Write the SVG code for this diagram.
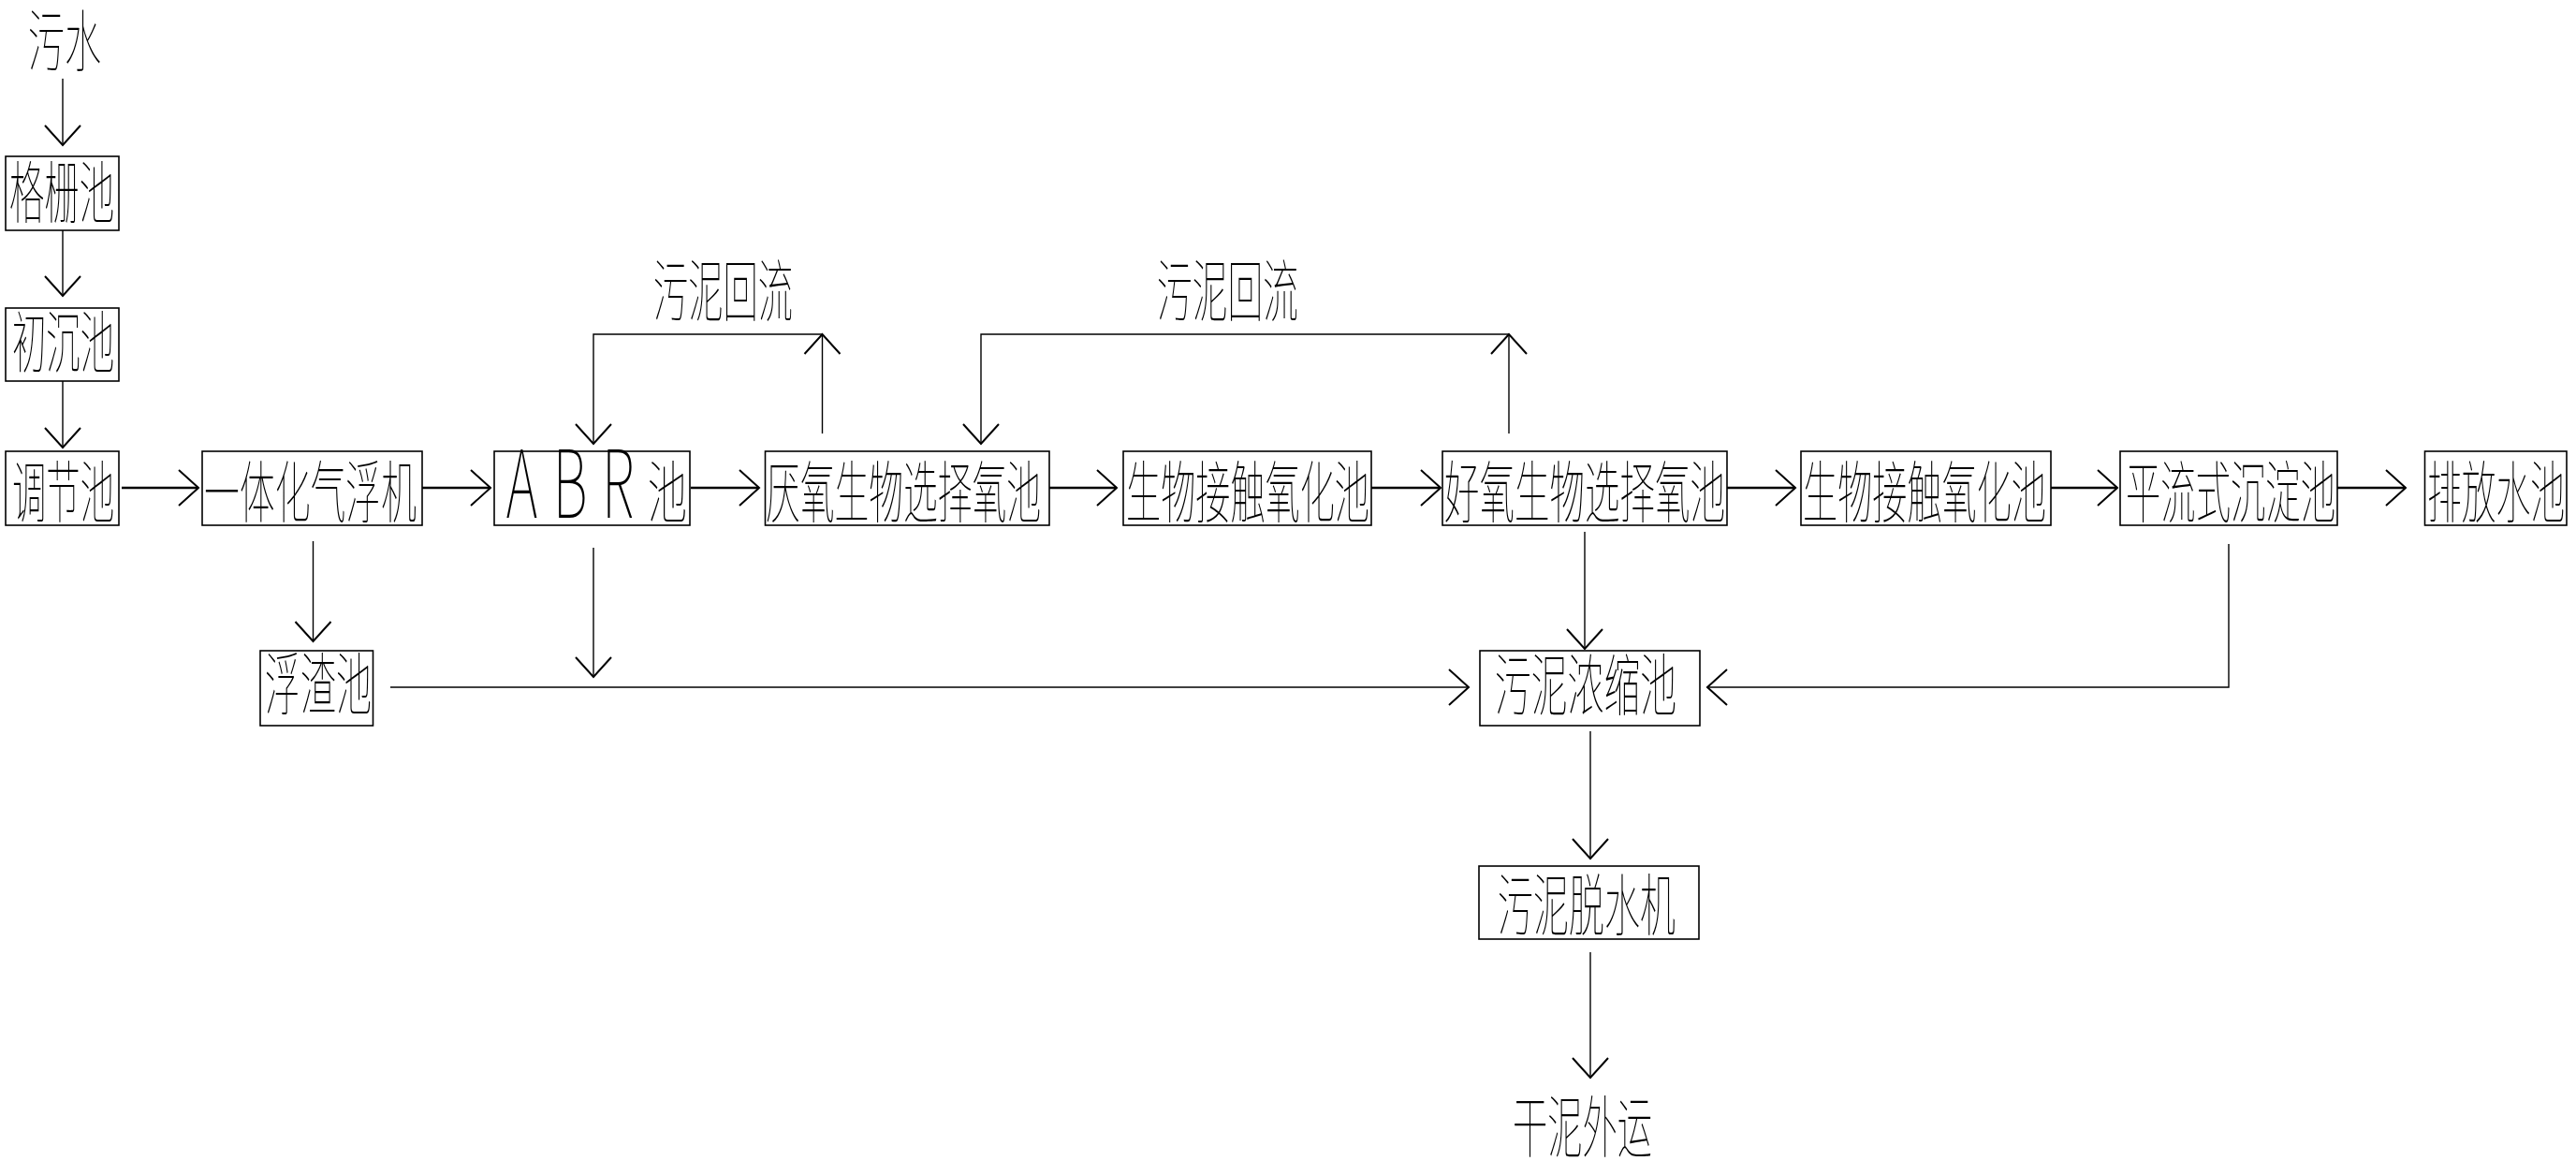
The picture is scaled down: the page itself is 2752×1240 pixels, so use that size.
<svg xmlns="http://www.w3.org/2000/svg" width="2752" height="1240" viewBox="0 0 2752 1240">
<style>
.bg{fill:#fff}
.box{fill:none;stroke:#000;stroke-width:1.6}
.ln{fill:none;stroke:#000;stroke-width:1.4}
.main{fill:none;stroke:#000;stroke-width:2.6}
.t{font-family:"Noto Sans CJK SC","Noto Sans CJK TC",sans-serif;font-size:72px;font-weight:100;fill:#000}
.lat{font-family:"Noto Sans CJK SC","Noto Sans",sans-serif;font-size:100px;font-weight:100;fill:#000}
</style>
<defs>
<marker id="ah" markerUnits="userSpaceOnUse" viewBox="-24 -22 26 44" markerWidth="26" markerHeight="44" refX="0" refY="0" orient="auto" overflow="visible">
<path d="M-21,-19 L0,0 L-21,19" fill="none" stroke="#000" stroke-width="2"/>
</marker>
</defs>
<rect class="bg" x="0" y="0" width="2752" height="1240"/>

<g id="connectors">
<path class="ln" d="M67,84 V155" marker-end="url(#ah)"/>
<path class="ln" d="M67,246 V316" marker-end="url(#ah)"/>
<path class="ln" d="M67,407 V478" marker-end="url(#ah)"/>
<path class="main" d="M130,521 H212" marker-end="url(#ah)"/>
<path class="main" d="M451,521 H524" marker-end="url(#ah)"/>
<path class="main" d="M738,521 H811" marker-end="url(#ah)"/>
<path class="main" d="M1121,521 H1193" marker-end="url(#ah)"/>
<path class="main" d="M1465,521 H1539" marker-end="url(#ah)"/>
<path class="main" d="M1845,521 H1918" marker-end="url(#ah)"/>
<path class="main" d="M2191,521 H2262" marker-end="url(#ah)"/>
<path class="main" d="M2497,521 H2570" marker-end="url(#ah)"/>
<path class="ln" d="M878.5,463 V357" marker-end="url(#ah)"/>
<path class="ln" d="M878.5,357 H634 V474" marker-end="url(#ah)"/>
<path class="ln" d="M1612,463 V357" marker-end="url(#ah)"/>
<path class="ln" d="M1612,357 H1048 V474" marker-end="url(#ah)"/>
<path class="ln" d="M334.5,578 V685" marker-end="url(#ah)"/>
<path class="ln" d="M634,585 V723" marker-end="url(#ah)"/>
<path class="ln" d="M417,734 H1569" marker-end="url(#ah)"/>
<path class="ln" d="M1693,568 V693" marker-end="url(#ah)"/>
<path class="ln" d="M2381,581 V734 H1824" marker-end="url(#ah)"/>
<path class="ln" d="M1699,781 V917" marker-end="url(#ah)"/>
<path class="ln" d="M1699,1017 V1151" marker-end="url(#ah)"/>
</g>

<g id="n-wushui"><text class="t" x="30" y="70" textLength="78" lengthAdjust="spacingAndGlyphs">污水</text></g>
<g id="n-gezha"><rect class="box" x="6" y="167" width="121" height="79"/><text class="t" x="10" y="232" textLength="112" lengthAdjust="spacingAndGlyphs">格栅池</text></g>
<g id="n-chuchen"><rect class="box" x="6" y="329" width="121" height="78"/><text class="t" x="13" y="392" textLength="109" lengthAdjust="spacingAndGlyphs">初沉池</text></g>
<g id="n-tiaojie"><rect class="box" x="6" y="482" width="121" height="79"/><text class="t" x="13" y="552" textLength="109" lengthAdjust="spacingAndGlyphs">调节池</text></g>
<g id="n-qifu"><rect class="box" x="216" y="482" width="235" height="79"/><text class="t" x="218" y="552" textLength="227" lengthAdjust="spacingAndGlyphs">一体化气浮机</text></g>
<g id="n-abr"><rect class="box" x="528" y="482" width="209" height="79"/>
<text transform="scale(0.58,1)" y="553" text-anchor="middle"><tspan class="lat" x="961">A</tspan><tspan class="lat" x="1050">B</tspan><tspan class="lat" x="1138">R</tspan><tspan class="t" x="1229" dy="-1">池</tspan></text></g>
<g id="n-yanyang"><rect class="box" x="817.5" y="482" width="303.5" height="79"/><text class="t" x="818" y="552" textLength="294" lengthAdjust="spacingAndGlyphs">厌氧生物选择氧池</text></g>
<g id="n-jiechu1"><rect class="box" x="1200" y="482" width="265" height="79"/><text class="t" x="1203" y="552" textLength="260" lengthAdjust="spacingAndGlyphs">生物接触氧化池</text></g>
<g id="n-haoyang"><rect class="box" x="1541" y="482" width="304" height="79"/><text class="t" x="1543" y="552" textLength="300" lengthAdjust="spacingAndGlyphs">好氧生物选择氧池</text></g>
<g id="n-jiechu2"><rect class="box" x="1924" y="482" width="267" height="79"/><text class="t" x="1926" y="552" textLength="260" lengthAdjust="spacingAndGlyphs">生物接触氧化池</text></g>
<g id="n-pingliu"><rect class="box" x="2265" y="482" width="232" height="79"/><text class="t" x="2271" y="552" textLength="224" lengthAdjust="spacingAndGlyphs">平流式沉淀池</text></g>
<g id="n-paifang"><rect class="box" x="2590.5" y="482" width="151.5" height="79"/><text class="t" x="2593" y="552" textLength="147" lengthAdjust="spacingAndGlyphs">排放水池</text></g>
<g id="l-huiliu1"><text class="t" x="698" y="337" textLength="149" lengthAdjust="spacingAndGlyphs">污泥回流</text></g>
<g id="l-huiliu2"><text class="t" x="1236" y="337" textLength="151" lengthAdjust="spacingAndGlyphs">污泥回流</text></g>
<g id="n-fuzha"><rect class="box" x="278" y="695" width="120.5" height="80"/><text class="t" x="283" y="757" textLength="114" lengthAdjust="spacingAndGlyphs">浮渣池</text></g>
<g id="n-nongsuo"><rect class="box" x="1581" y="695" width="235" height="80"/><text class="t" x="1597" y="758" textLength="194" lengthAdjust="spacingAndGlyphs">污泥浓缩池</text></g>
<g id="n-tuoshui"><rect class="box" x="1580" y="925" width="235" height="78"/><text class="t" x="1600" y="993" textLength="190" lengthAdjust="spacingAndGlyphs">污泥脱水机</text></g>
<g id="n-waiyun"><text class="t" x="1616" y="1230" textLength="149" lengthAdjust="spacingAndGlyphs">干泥外运</text></g>
</svg>
